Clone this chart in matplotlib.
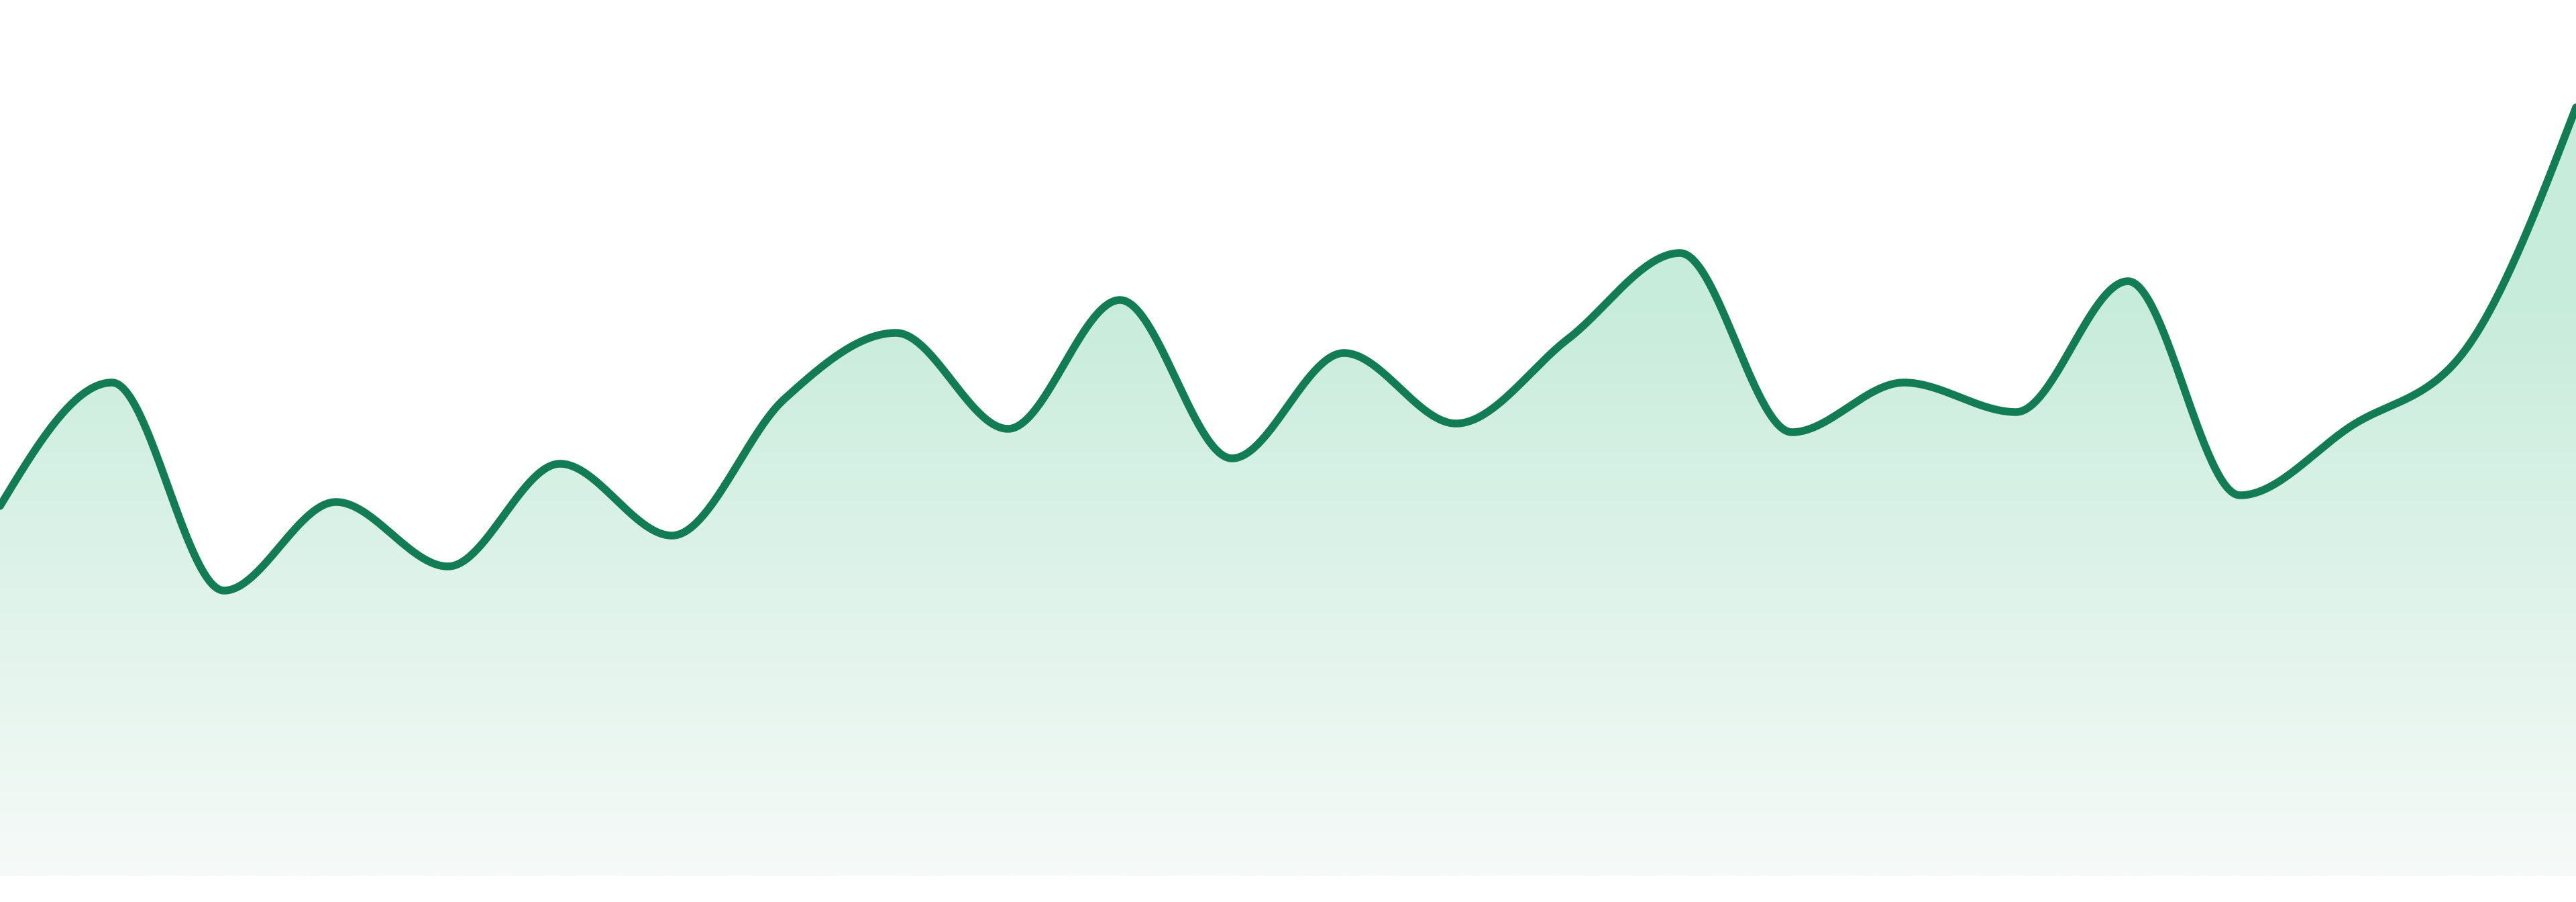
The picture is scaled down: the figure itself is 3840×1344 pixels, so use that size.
import matplotlib
matplotlib.use("Agg")
import matplotlib.pyplot as plt
import numpy as np
from matplotlib.colors import LinearSegmentedColormap

# one value per period, 24 periods
periods = list(range(24))
values = [55.1, 73.5, 42.5, 55.7, 46.1, 61.4, 50.7, 71.0, 80.9, 66.6, 85.8, 62.2,
          77.9, 67.4, 80.0, 92.8, 66.1, 73.5, 69.1, 88.6, 56.7, 67.1, 78.1, 114.5]

LINE = "#127c54"
FILL_TOP = "#c8ecdc"
FILL_BOTTOM = "#f6faf8"


def monotone_x(x, y, n=60):
    # monotone cubic (Steffen), same idea as d3.curveMonotoneX
    x = np.asarray(x, float)
    y = np.asarray(y, float)
    h = np.diff(x)
    s = np.diff(y) / h
    t = np.zeros_like(y)
    for i in range(1, len(y) - 1):
        p = (s[i - 1] * h[i] + s[i] * h[i - 1]) / (h[i - 1] + h[i])
        t[i] = (np.sign(s[i - 1]) + np.sign(s[i])) * min(abs(s[i - 1]), abs(s[i]), 0.5 * abs(p))
    t[0] = (3 * s[0] - t[1]) / 2
    t[-1] = (3 * s[-1] - t[-2]) / 2
    xs, ys = [], []
    for i in range(len(h)):
        u = np.linspace(0, 1, n, endpoint=(i == len(h) - 1))
        h00 = 2 * u**3 - 3 * u**2 + 1
        h10 = u**3 - 2 * u**2 + u
        h01 = -2 * u**3 + 3 * u**2
        h11 = u**3 - u**2
        xs.append(x[i] + u * h[i])
        ys.append(h00 * y[i] + h10 * h[i] * t[i] + h01 * y[i + 1] + h11 * h[i] * t[i + 1])
    return np.concatenate(xs), np.concatenate(ys)


fig = plt.figure(figsize=(38.4, 13.44), dpi=100)
ax = fig.add_axes([0, 0, 1, 1])
ax.set_xlim(0, 23)
ax.set_ylim(-3.9, 130.5)
ax.axis("off")

xs, ys = monotone_x(periods, values)

# vertical gradient clipped to the area under the curve
cmap = LinearSegmentedColormap.from_list("fade", [FILL_BOTTOM, FILL_TOP])
grad_top = 85.5
levels = np.linspace(0, 130.5, 600)
g = np.clip(levels / grad_top, 0, 1).reshape(-1, 1)
img = ax.imshow(g, cmap=cmap, vmin=0, vmax=1, aspect="auto", origin="lower",
                extent=(0, 23, 0, 130.5), zorder=1)
poly = ax.fill_between(xs, 0, ys, color="none", lw=0)
clip = poly.get_paths()[0]
img.set_clip_path(clip, transform=ax.transData)

ax.plot(xs, ys, color=LINE, lw=8.3, solid_capstyle="round", zorder=3)

fig.savefig("out.png", dpi=100, facecolor="white")
